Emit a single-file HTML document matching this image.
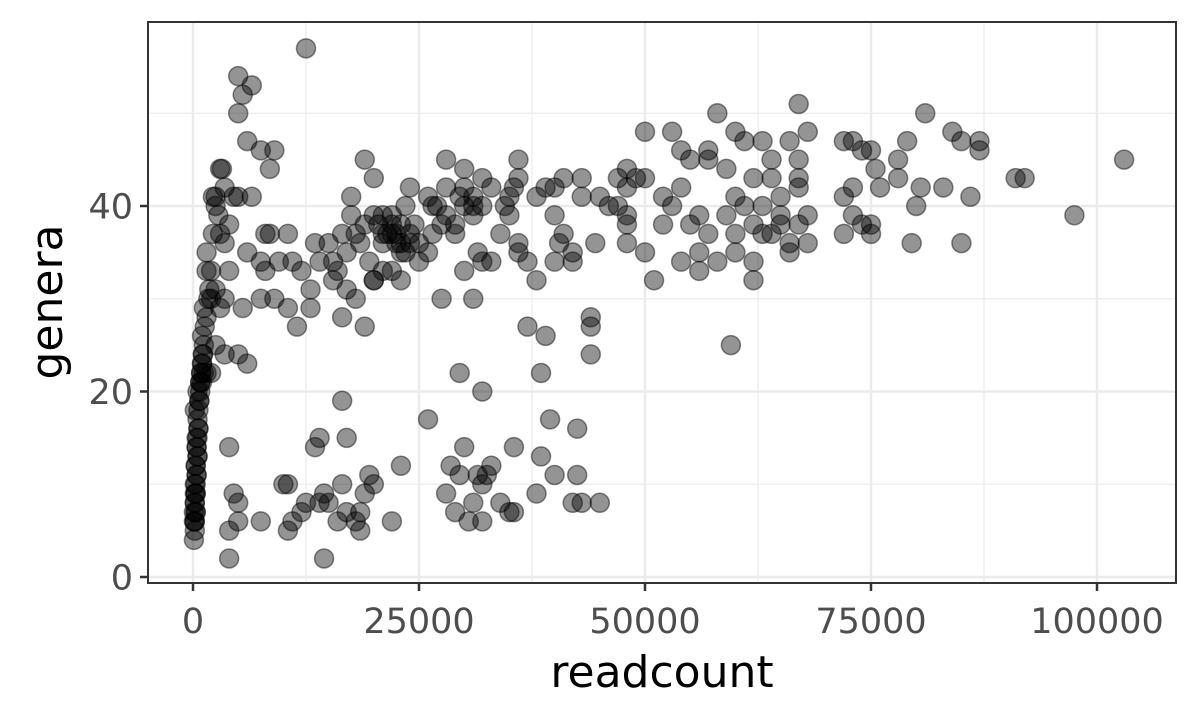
<!DOCTYPE html>
<html><head><meta charset="utf-8">
<style>
html,body{margin:0;padding:0;background:#fff;}
svg{display:block;font-family:"DejaVu Sans","Liberation Sans",sans-serif;}
</style></head>
<body>
<svg id="chart" width="1200" height="720" viewBox="0 0 1200 720" xmlns="http://www.w3.org/2000/svg">
<rect x="0" y="0" width="1200" height="720" fill="#fff"/>
<g id="grid"></g>
<g id="points"></g>
<rect x="148" y="22" width="1028" height="561" fill="none" stroke="#333" stroke-width="2"/>
<g id="axes"></g>
<text x="662" y="687" font-size="44" text-anchor="middle" fill="#000">readcount</text>
<text transform="translate(62,302) rotate(-90)" font-size="44" text-anchor="middle" fill="#000">genera</text>
</svg>
<script>
const xTicks = [0, 25000, 50000, 75000, 100000];
const xMinor = [12500, 37500, 62500, 87500];
const yTicks = [0, 20, 40];
const yMinor = [10, 30, 50];
// readcount in thousands
const readK = [
0.1,0.2,0.2,0.3,0.2,0.3,0.2,0.4,0.3,0.5,0.4,0.5,0.6,0.5,0.7,0.8,0.9,1,1.1,1.2,1,1.3,1.5,1.2,1.7,1.8,2,1.5,2,1.5,2.2,2.5,2.2,3,3.2,2.5,2.8,3,3.5,4,3.5,4.5,4,3.5,3,2.5,2.5,2,1.5,0.5,0.2,3.5,5,6,5.5,4,4.5,5,4,5,4,7.5,0.1,0.1,0.2,
0.2,0.3,0.2,0.3,0.4,0.3,0.5,0.4,0.6,0.7,0.8,0.9,1,1.1,1.2,0.8,1,0.6,0.4,0.3,
5,5,5.5,6.5,12.5,6,7.5,9,8.5,5,6.5,6,8,8.5,7.5,8,9.5,7.5,9,10.5,10.5,11,12,11.5,13,13.5,14,13,15,15.5,15.5,16,17,16.5,17.5,17.5,18,18.5,19,19,20,20,19.5,20,21,21,22,22,22.5,23,23,24,23.5,24.5,24,25,26,25,22,21,20,23,18,17,16.5,19,26,26.5,27.5,27,28,28,28,29,29,29.5,30,30,30,31,31,31,32,32,33,33,32,31.5,30,31,27.5,26.5,34,34.5,35,35,35.5,36,36,36,37,36,37,38,38,39,39,40,40.5,40,41,41,42,42,40,43,43,44,44,44,44.5,45,46,47,47,48,48,48,48,48,49,50,50,50,51,52,52,53,53,54,54,54,55,55,56,56,56,57,57,57,58,58,59,59,60,60,60,60,59.5,61,61,62,62,62,62,63,63,63,64,64,64,65,65,65,66,66,66,67,67,67,67,67,68,68,68,72,72,72,73,73,73,74,74,75,75,75,75.5,76,78,78,79,79.5,80,80.5,81,83,84,85,85,86,87,87,91,92,97.5,103,
21.5,22.5,23,21,22,23.5,24,20.5,
10,10.5,10.5,11,12,12.5,13.5,14,14,14.5,15,14.5,16,16.5,16.5,17,17,18,18.5,18.5,19,19.5,20,22,23,26,28,28.5,29,29.5,29.5,30,30.5,31,31.5,32,32,32,32.5,33,34,35,35.5,35.5,38,38.5,38.5,39.5,40,42,42.5,42.5,43,45
];
const genera = [
4,5,6,7,8,9,10,11,12,13,14,15,16,17,19,21,22,23,24,25,26,27,28,29,30,31,30,33,33,35,37,41,41,44,44,40,39,37,36,38,42,41,33,30,29,31,25,22,22,20,18,24,24,23,29,14,9,8,5,6,2,6,7,6,9,
6,7,8,10,11,12,13,15,16,19,21,22,23,24,22,20,21,18,14,9,
54,50,52,53,57,47,46,46,44,41,41,35,37,37,34,33,34,30,30,29,37,34,33,27,31,36,34,29,36,34,32,33,35,37,39,41,37,36,38,45,43,39,34,32,37,36,38,39,37,36,35,42,40,38,37,36,41,34,33,33,32,32,30,31,28,27,35,40,38,40,42,45,39,38,37,41,40,44,42,40,39,41,43,40,42,34,34,35,33,30,30,37,37,40,39,41,42,43,45,36,34,35,27,32,41,42,26,34,36,39,37,43,35,34,42,41,43,27,28,24,36,41,40,40,43,44,42,39,36,38,43,43,48,35,32,41,38,40,48,46,42,34,45,38,39,35,33,37,46,45,34,50,44,39,48,41,37,35,25,47,40,43,38,34,32,37,40,47,45,43,37,41,38,39,35,36,47,42,43,45,51,38,48,39,36,47,41,37,42,39,47,46,38,37,38,46,44,42,45,43,47,36,40,42,50,42,48,36,47,41,46,47,43,43,39,45,
37,36,38,39,37,35,36,38,
10,5,10,6,7,8,14,15,8,9,8,2,6,10,19,15,7,6,7,5,9,11,10,6,12,17,9,12,7,11,22,14,6,8,11,10,20,6,11,12,8,7,7,14,9,22,13,17,11,8,11,16,8,8
];
const NS = 'http://www.w3.org/2000/svg';
const xScale = v => 193 + v * (226 / 25000);
const yScale = v => 577 - v * (371 / 40);
const grid = document.getElementById('grid');
const axes = document.getElementById('axes');
function line(parent, x1, y1, x2, y2, stroke, w) {
  const l = document.createElementNS(NS, 'line');
  l.setAttribute('x1', x1); l.setAttribute('y1', y1);
  l.setAttribute('x2', x2); l.setAttribute('y2', y2);
  l.setAttribute('stroke', stroke); l.setAttribute('stroke-width', w);
  parent.appendChild(l);
  return l;
}
xMinor.forEach(v => {
  const l = line(grid, xScale(v), 22, xScale(v), 583, '#ebebeb', 1.2);
  
  
});
yMinor.forEach(v => {
  const l = line(grid, 148, yScale(v), 1176, yScale(v), '#ebebeb', 1.2);
  
  
});
xTicks.forEach(v => {
  const l = line(grid, xScale(v), 22, xScale(v), 583, '#ebebeb', 2.5);
  
  
  const t = line(axes, xScale(v), 584, xScale(v), 591, '#333', 2.5);
  
  
  const tx = document.createElementNS(NS, 'text');
  tx.setAttribute('x', xScale(v)); tx.setAttribute('y', 633);
  tx.setAttribute('font-size', '35'); tx.setAttribute('fill', '#4d4d4d');
  tx.setAttribute('text-anchor', 'middle');
  tx.textContent = v;
  
  
  axes.appendChild(tx);
});
yTicks.forEach(v => {
  const l = line(grid, 148, yScale(v), 1176, yScale(v), '#ebebeb', 2.5);
  
  
  const t = line(axes, 140, yScale(v), 147, yScale(v), '#333', 2.5);
  
  
  const tx = document.createElementNS(NS, 'text');
  tx.setAttribute('x', 133); tx.setAttribute('y', yScale(v) + 12.5);
  tx.setAttribute('font-size', '35'); tx.setAttribute('fill', '#4d4d4d');
  tx.setAttribute('text-anchor', 'end');
  tx.textContent = v;
  
  
  axes.appendChild(tx);
});
const pts = document.getElementById('points');
const n = Math.min(readK.length, genera.length);
for (let i = 0; i < n; i++) {
  const c = document.createElementNS(NS, 'circle');
  c.setAttribute('cx', xScale(readK[i] * 1000));
  c.setAttribute('cy', yScale(genera[i]));
  c.setAttribute('r', 9.5);
  c.setAttribute('fill', 'rgba(0,0,0,0.42)');
  c.setAttribute('stroke', 'rgba(0,0,0,0.45)');
  c.setAttribute('stroke-width', 1.5);
  
  
  pts.appendChild(c);
}
</script>
</body></html>
